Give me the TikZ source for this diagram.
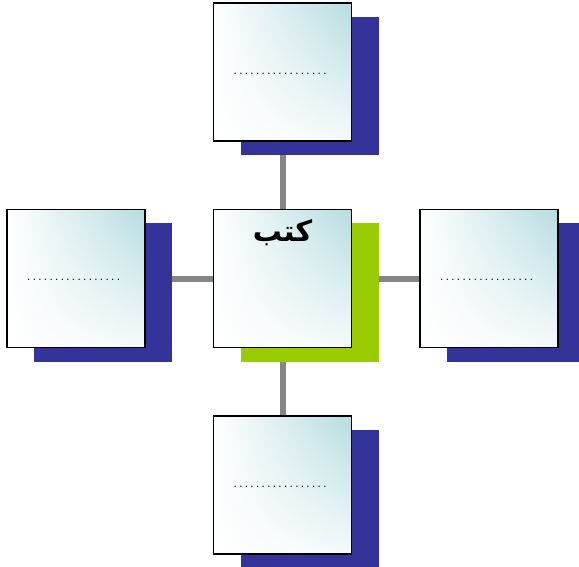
\documentclass[tikz,border=0pt]{standalone}
\usepackage{fontspec}
\newfontfamily\arabicfont[Script=Arabic]{DejaVu Sans}
\TeXXeTstate=1
\usetikzlibrary{positioning,shadows,shadings,backgrounds}
\definecolor{shadowblue}{HTML}{333399}
\definecolor{shadowgreen}{HTML}{99CC00}
\definecolor{boxcyan}{HTML}{B6DCE0}
\definecolor{linkgray}{HTML}{858585}
\newcommand{\dotrow}{\raisebox{-5pt}{\fontsize{17}{18}\selectfont\makebox[100pt]{\leaders\hbox to 5.6pt{\hss.\hss}\hfill}}}

\begin{document}
\begin{tikzpicture}[x=1pt, y=1pt, node distance=67pt,
		card/.style={draw=black, line width=1.5pt, minimum size=138pt, inner sep=0pt,
			upper left=white, upper right=boxcyan, lower left=white, lower right=boxcyan!14},
		box/.style={card, general shadow={fill=shadowblue, shadow xshift=27pt, shadow yshift=-14pt}},
		hub/.style={card, general shadow={fill=shadowgreen, shadow xshift=27pt, shadow yshift=-14pt}},
		link/.style={draw=linkgray, line width=6pt}]
		\useasboundingbox (0,0) rectangle (579,-567);
		\node[hub] (hub) at (282.5,-278.5) {};
		\node[anchor=north, font=\arabicfont\bfseries\fontsize{29}{32}\selectfont] (hubtitle) at ([yshift=-7pt]hub.north) {\beginR كتب\endR};
		\node[box, above=of hub] (up) {\dotrow};
		\node[box, below=of hub] (down) {\dotrow};
		\node[box, left=of hub] (west) {\dotrow};
		\node[box, right=of hub] (east) {\dotrow};
		\begin{scope}[on background layer]
			\draw[link] (hub) -- (up);
			\draw[link] (hub) -- (down);
			\draw[link] (hub) -- (west);
			\draw[link] (hub) -- (east);
		\end{scope}
	\end{tikzpicture}
\end{document}
